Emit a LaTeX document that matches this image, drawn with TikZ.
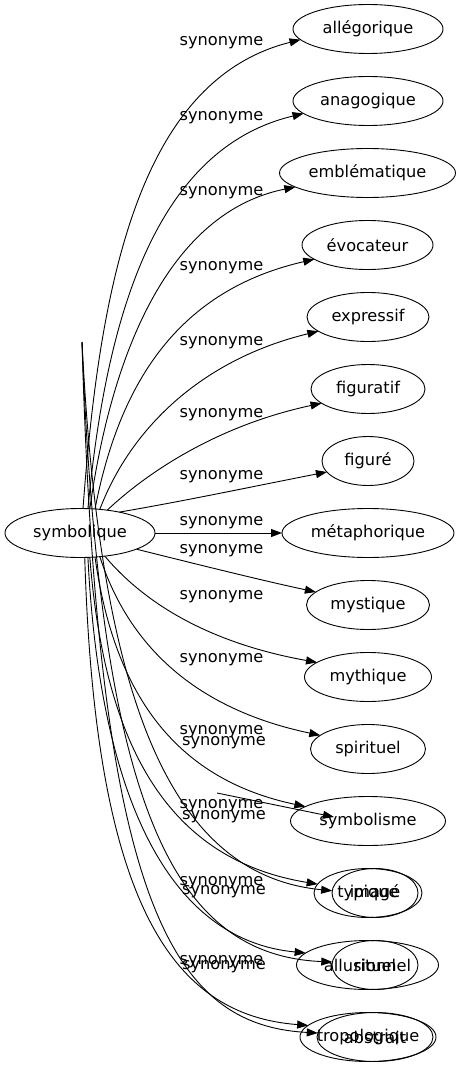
\documentclass[tikz,border=0pt]{standalone}
\usepackage{fontspec}
\setmainfont{DejaVu Sans}
\usetikzlibrary{shapes.geometric,arrows.meta}

\tikzset{
  word/.style={draw, ellipse, inner sep=0pt, outer sep=0pt, minimum height=49pt, line width=0.9pt},
  syn/.style={inner sep=0pt},
  edge/.style={line width=0.9pt, -{Triangle[length=11pt,width=8pt]}}
}

\begin{document}
\begin{tikzpicture}[x=1pt,y=-1pt,every node/.style={font=\fontsize{16.2}{19}\selectfont}]
\useasboundingbox (0,0) rectangle (462,1067);

\node[word, minimum width=150pt] (sym) at (80,533) {symbolique};

%% the synonyms: name/text/x/y/radius
\foreach \nm/\txt/\cx/\cy/\rx in {
  allego/allégorique/368/29/75,
  anago/anagogique/368/101/75,
  emble/emblématique/367.5/173/88,
  evoc/évocateur/367.5/245/65.5,
  expr/expressif/368/317/61,
  figtf/figuratif/368/389/57,
  figre/figuré/368/461/46,
  meta/métaphorique/368/533/86,
  myst/mystique/368/605/61.5,
  myth/mythique/368/677/63.5,
  spir/spirituel/368/749/57.5,
  symb/symbolisme/368/821/77.5,
  typ/typique/368/893/54,
  imag/imagé/375/893/43,
  allus/allusionnel/367.5/965/71,
  ritu/rituel/375/965/43,
  tropo/tropologique/368/1037/68,
  abstr/abstrait/375/1037/58}
  \node[word, minimum width={2*\rx pt}] (\nm) at (\cx,\cy) {\makebox[0pt]{\txt}};

\coordinate (glitch) at (82,342);
\coordinate (stray) at (217,793);
\coordinate (strayend) at (334,817);

%% edge labels
\foreach \y [count=\i] in {43,118,193,268,343,415,477,523,551,597,660,732,806,883,962}
  \node[syn] (lab\i) at (221.5,\y) {synonyme};
\foreach \y [count=\i] in {743,817,892,967}
  \node[syn] (labb\i) at (224,\y) {synonyme};

%% edges
\draw[edge] (sym) -- (meta);
\draw[edge] (stray) -- (strayend);
\foreach \src/\ax/\ay/\bx/\by/\dst in {
  sym.83/100/280/140/80/allego.189,
  sym.72/105/330/150/150/anago.191,
  sym.68/115/330/180/210/emble.191,
  sym.58/120/380/180/290/evoc.195,
  sym.50/130/430/200/360/expr.196,
  sym.40/150/470/220/425/figtf.197,
  sym.28/190/500/260/485/figre.195,
  sym.344/200/565/260/580/myst.166,
  sym.317/150/610/220/645/myth.164,
  sym.310/130/650/200/710/spir.164,
  sym.302/115/700/180/780/symb.167,
  sym.292/105/750/170/860/typ.170,
  glitch/100/700/170/875/imag.177,
  sym.288/100/800/170/940/allus.169,
  glitch/100/800/170/955/ritu.176,
  sym.281/95/900/170/1015/tropo.169,
  glitch/98/900/170/1025/abstr.176}
  \draw[edge] (\src) .. controls (\ax,\ay) and (\bx,\by) .. (\dst);
\end{tikzpicture}
\end{document}
